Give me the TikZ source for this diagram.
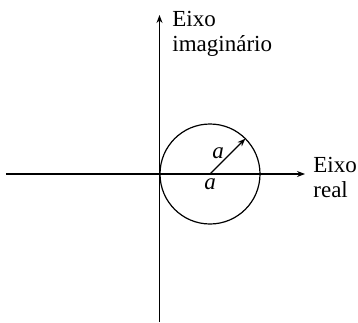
\documentclass[tikz,border=0pt]{standalone}
\usepackage{fontspec}
\setmainfont{Liberation Serif}
\usetikzlibrary{positioning,arrows.meta}

\begin{document}
\begin{tikzpicture}[x=0.5pt, y=0.5pt,
        axis/.style={line width=0.6pt, -{Stealth[length=4pt, width=3pt]}},
        axislabel/.style={font=\fontsize{11.5}{12.5}\selectfont, align=left, inner sep=0pt, anchor=north west},
        var/.style={font=\fontsize{11.5}{12.5}\selectfont\itshape, inner sep=0pt},
        disk/.style={circle, draw, line width=0.6pt, minimum size=50pt, inner sep=0pt, outer sep=0pt}
    ]
        \useasboundingbox (-159.5,-148) rectangle (198.5,174);

        % Axes
        \coordinate (xstart) at (-153.5, 0);
        \coordinate (xend) at (145.5, 0);
        \coordinate (ystart) at (0, -148);
        \coordinate (yend) at (0, 159);
        \draw[axis] (xstart) -- (xend);
        \draw[axis] (ystart) -- (yend);
        \node[axislabel] (xlabel) at (153.5, 17) {Eixo\\real};
        \node[axislabel] (ylabel) at (12.5, 163) {Eixo\\imaginário};

        % Circle
        \node[disk] (circ) at (50.5, 0) {};
        \draw[axis] (circ.center) -- (circ.45); % Radius
        \node[var] (rlabel) at (58.5, 21) {a};
        \node[var] (clabel) at (50.5, -10) {a};

    \end{tikzpicture}
\end{document}
